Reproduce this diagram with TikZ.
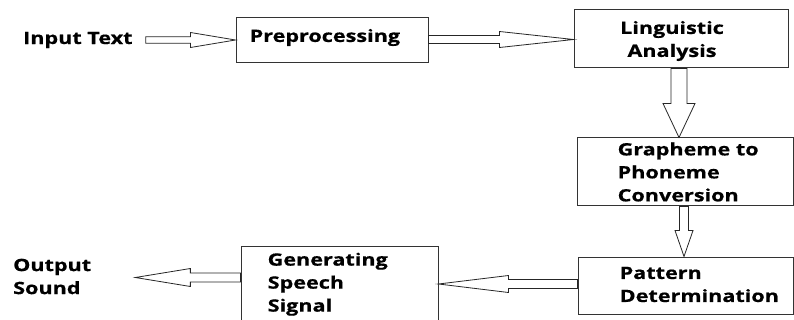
\documentclass[tikz,border=0pt]{standalone}
\usepackage{fontspec}
\setmainfont{Open Sans}[FakeStretch=1.27, BoldFeatures={FakeBold=0.6}]
\usetikzlibrary{calc}
\tikzset{
  box/.style={draw=black!80, line width=1pt, rectangle, inner sep=0pt},
  lbl/.style={inner sep=0pt, align=left, font=\fontsize{17}{23}\selectfont\bfseries},
  barrowstyle/.style={draw=black!85, line width=0.8pt, fill=white, line join=miter},
}
\newcommand\barrow[5]{%
  \draw[barrowstyle] let \p1=(#1), \p2=(#2),
      \n1={atan2(\y2-\y1,\x2-\x1)}, \n2={veclen(\x2-\x1,\y2-\y1)} in
    [shift={(\p1)}, rotate=\n1]
    (0,-#3) -- ({\n2-#5},-#3) -- ({\n2-#5},-#4) -- (\n2,0)
    -- ({\n2-#5},#4) -- ({\n2-#5},#3) -- (0,#3) -- cycle;
}
\begin{document}
\begin{tikzpicture}[x=1pt,y=1pt]
\useasboundingbox (0,0) rectangle (794,-320);
\clip (0,0) rectangle (794,-320);
% boxes
\node[box, minimum width=192, minimum height=45] (pre) at (332,-40.5) {};
\node[box, minimum width=214, minimum height=58] (lin) at (681,-39) {};
\node[box, minimum width=216, minimum height=68] (g2p) at (685,-172) {};
\node[box, minimum width=215, minimum height=57] (pat) at (685.5,-285.5) {};
\node[box, minimum width=197, minimum height=94] (gen) at (339.5,-293) {};
% texts
\node[lbl, anchor=west] (inp) at (23,-40) {Input Text};
\node[lbl, anchor=west] (preT) at ($(pre.west)+(14,3)$) {Preprocessing};
\node[lbl, align=center] (linT) at ($(lin.center)+(-9,-2)$) {Linguistic\\Analysis};
\node[lbl, anchor=west] (g2pT) at ($(g2p.west)+(41,0)$) {Grapheme to\\Phoneme\\Conversion};
\node[lbl, anchor=west] (patT) at ($(pat.west)+(42,1)$) {Pattern\\Determination};
\node[lbl, anchor=north west] (genT) at ($(gen.north west)+(27,-7)$) {Generating\\Speech\\Signal};
\node[lbl, anchor=west] (out) at (13,-276.5) {Output\\Sound};
% arrow end points
\coordinate (a1s) at ($(inp.east)+(13,0)$);
\coordinate (a2s) at ($(pre.east)+(0,1)$);
\coordinate (a3s) at ($(lin.south)+(-2,0)$);
\coordinate (a4s) at ($(g2p.south)+(-1,0)$);
\coordinate (a5s) at ($(pat.west)+(0,1.5)$);
\coordinate (a6s) at ($(gen.north west)+(0,-32)$);
\coordinate (a6e) at ($(out.east |- a6s)+(44,0)$);
% block arrows
\barrow{a1s}{a1s -| pre.west}{3.3}{7.5}{45}
\barrow{a2s}{a2s -| lin.west}{4}{8}{74}
\barrow{a3s}{a3s |- g2p.north}{8}{16}{34}
\barrow{a4s}{a4s |- pat.north}{4.5}{9}{26}
\barrow{a5s}{a5s -| gen.east}{4.5}{8.5}{70}
\barrow{a6s}{a6e}{4.5}{9}{55}
\end{tikzpicture}
\end{document}
